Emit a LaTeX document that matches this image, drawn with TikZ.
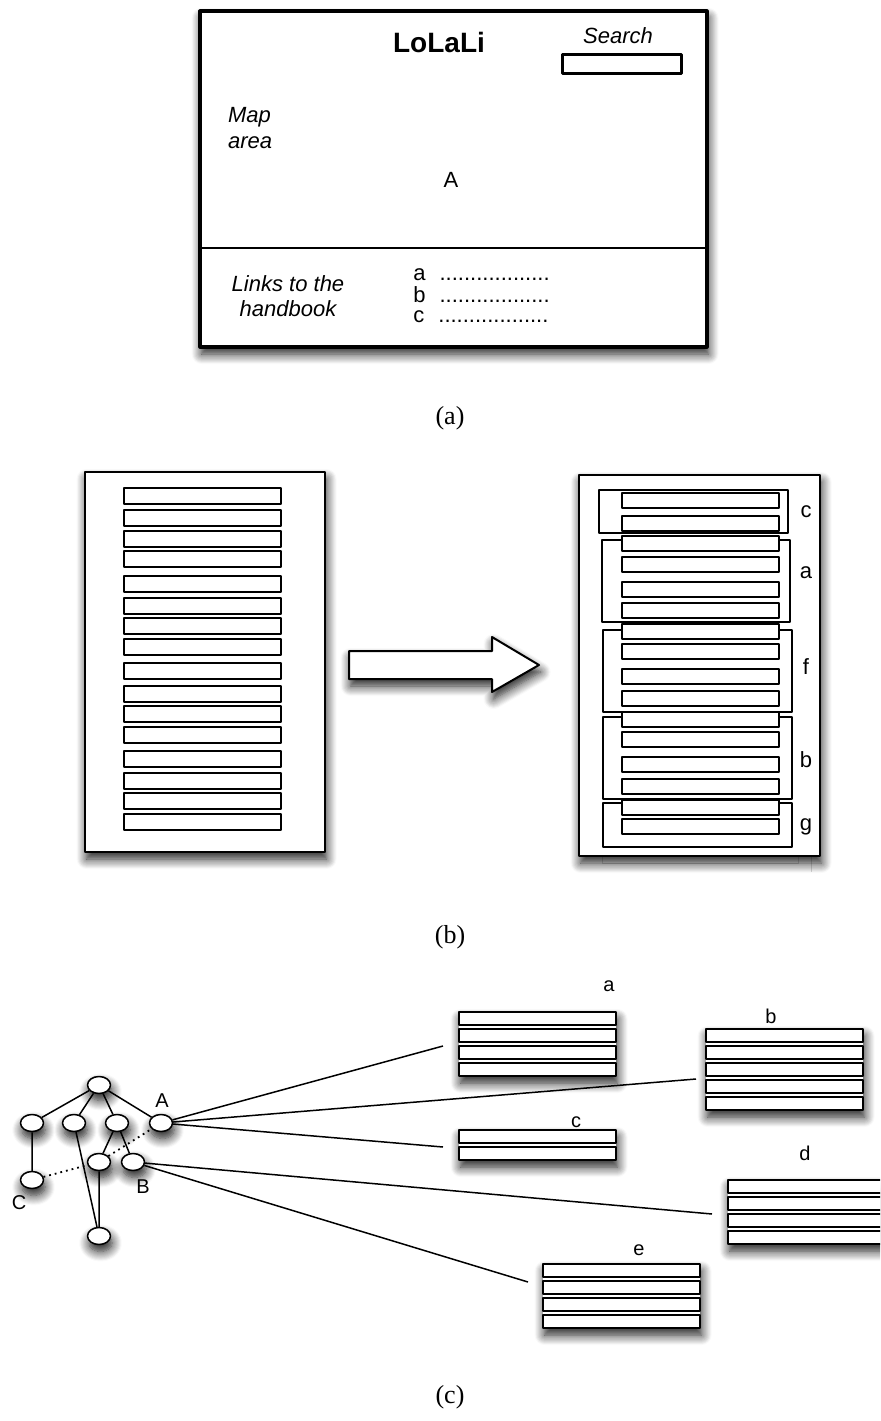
\documentclass[tikz,border=0pt]{standalone}
\usepackage{fontspec}
\setmainfont{Liberation Serif}
\setsansfont{Liberation Sans}
\usetikzlibrary{shapes.geometric,shadows.blur}
\tikzset{
  shd/.style={blur shadow={shadow xshift=0.8pt,shadow yshift=-3.5pt,shadow blur radius=5pt,shadow blur steps=10,shadow opacity=90}},
  frame/.style={draw,fill=white,line width=1.6pt,shd},
  page/.style={draw,fill=white,line width=1pt,shd},
  slot/.style={draw,fill=white,line width=0.75pt},
  leaf/.style={ellipse,draw,fill=white,line width=0.75pt,minimum width=11.5pt,minimum height=8.5pt,inner sep=0pt,shd},
  captxt/.style={font=\rmfamily\fontsize{13}{15}\selectfont},
  tag/.style={font=\sffamily\fontsize{10}{12}\selectfont,anchor=base,inner sep=0pt},
}
% a stack of bars: left, top, number of bars
\newcommand{\stk}[3]{%
  \path[fill=white,shd] (#1,#2) rectangle ++(157,{17*(#3-1)+13});
  \foreach \k in {1,...,#3} \draw[slot,line width=0.95pt] (#1,{#2+17*(\k-1)}) rectangle ++(157,13);
}
\begin{document}
\begin{tikzpicture}[x=0.5pt,y=-0.5pt,line join=round,font=\sffamily\fontsize{11}{13}\selectfont]
\useasboundingbox (0,0) rectangle (880,1421);
\clip (0,0) rectangle (880,1421);
% (a) screen sketch
\draw[frame] (200,11) rectangle (707,347);
\draw[line width=0.9pt] (200,248)--(707,248);
\node[font=\sffamily\bfseries\fontsize{14}{16}\selectfont,anchor=base] (title) at (439,52) {LoLaLi};
\node[font=\sffamily\itshape\fontsize{11}{13}\selectfont,anchor=base] (search) at (618,43) {Search};
\draw[line width=1.5pt] (562,54) rectangle (681,73);
\node[font=\sffamily\itshape\fontsize{11}{13}\selectfont,align=left,anchor=west] (map) at (221,128) {Map\\area};
\node[anchor=base] (mark) at (451,187) {A};
\node[font=\sffamily\itshape\fontsize{11}{12.5}\selectfont,align=center] (links) at (288,296) {Links to the\\handbook};
\foreach \l/\y in {a/280,b/302,c/322}
  \node[anchor=base west,inner sep=0pt] (row\l) at (413,\y) {\l\hspace{7pt}..................};
\node[captxt] (ca) at (450,418) {(a)};
% (b) before / after
\draw[page] (85,472) rectangle (325,852);
\foreach \t in {488,510,531,551,576,598,618,639,663,686,706,727,751,773,793,814}
  \draw[slot] (124,\t) rectangle ++(157,16);
\draw[fill=white,line width=1pt,shd] (349,651)--(492,651)--(492,637)--(539,665)--(492,692)--(492,679)--(349,679)--cycle;
\draw[gray!30,line width=0.4pt] (602,857)--(602,863)--(798,863)--(798,857) (811,856)--(811,872);
\draw[page] (579,475) rectangle (820,856);
\foreach \xa/\ya/\xb/\yb/\l/\ly in {599/490/788/533/c/512,602/540/790/622/a/573,603/630/792/712/f/667,603/717/792/799/b/760,603/803/792/847/g/827}{
  \draw[line width=0.75pt] (\xa,\ya) rectangle (\xb,\yb);
  \node (g\l) at (806,\ly) {\l};
}
\foreach \t in {493,516,536,557,582,603,624,644,669,691,712,732,757,779,800,819}
  \draw[slot] (622,\t) rectangle ++(157,15);
\node[captxt] (cb) at (450,937) {(b)};
% (c) tree and its pieces
\node[leaf] (r) at (99,1085) {};
\node[leaf] (n1) at (32,1123) {};
\node[leaf] (n2) at (74,1123) {};
\node[leaf] (n3) at (117,1123) {};
\node[leaf] (nA) at (161,1123) {};
\node[leaf] (n5) at (99,1162) {};
\node[leaf] (nB) at (133,1162) {};
\node[leaf] (nC) at (32,1180) {};
\node[leaf] (n6) at (99,1236) {};
\draw[line width=0.75pt] (r)--(n1) (r)--(n2) (r)--(n3) (r)--(nA) (n1)--(nC)
  (n3)--(n5) (n3)--(nB) (n2)--(n6) (n5)--(n6);
\draw[line width=0.9pt,dotted] (nC)--(n5) (n5)--(nA);
\node[tag] (lA) at (162,1107) {A};
\node[tag] (lB) at (143,1193) {B};
\node[tag] (lC) at (19,1209) {C};
\stk{459}{1012}{4} \stk{706}{1029}{5} \stk{459}{1130}{2}
\stk{728}{1180}{4} \stk{543}{1264}{4}
\node[tag] (sa) at (609,991) {a};
\node[tag] (sb) at (771,1023) {b};
\node[tag] (sc) at (576,1127) {c};
\node[tag] (sd) at (805,1160) {d};
\node[tag] (se) at (639,1255) {e};
\coordinate (ta) at (443,1046);
\coordinate (tb) at (696,1079);
\coordinate (tc) at (443,1147);
\coordinate (td) at (712,1214);
\coordinate (te) at (528,1282);
\draw[line width=0.75pt] (nA)--(ta) (nA)--(tb) (nA)--(tc) (nB)--(td) (nB)--(te);
\node[captxt] (cc) at (450,1397) {(c)};
\end{tikzpicture}
\end{document}
